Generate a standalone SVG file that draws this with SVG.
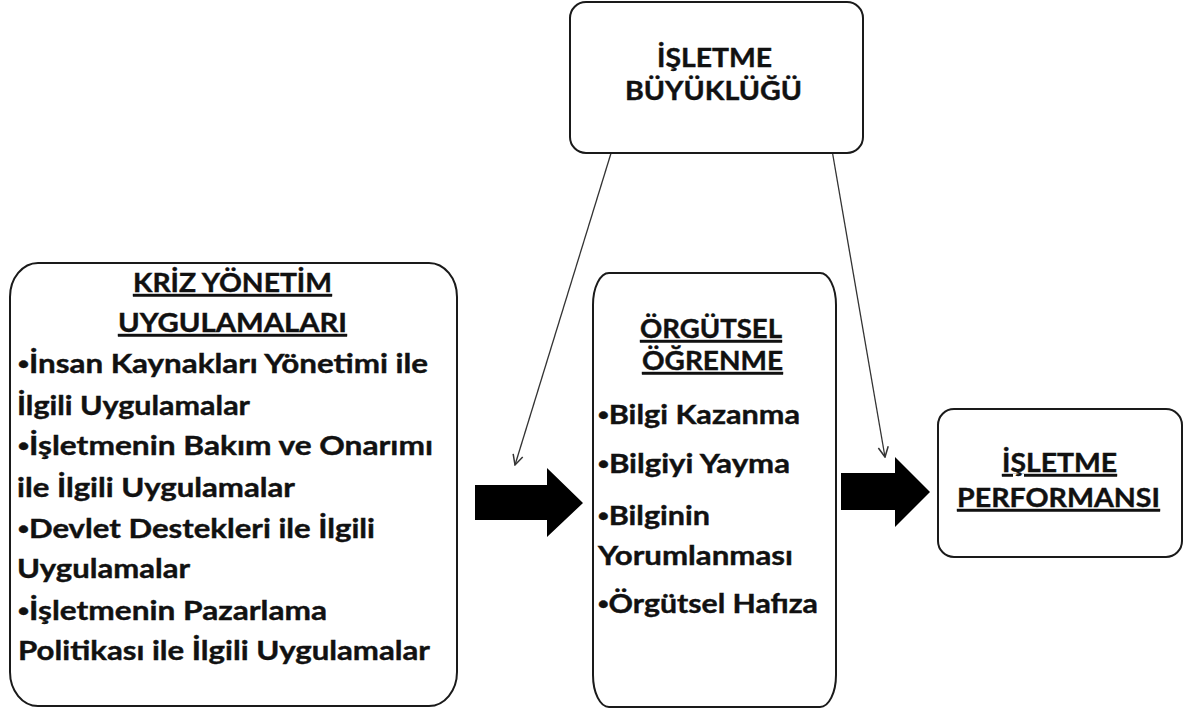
<svg xmlns="http://www.w3.org/2000/svg" width="1197" height="710" viewBox="0 0 1197 710">
  <style>
    .box { fill: #ffffff; stroke: #1a1a1a; stroke-width: 2; }
    .t { font-family: Lato, "Liberation Sans", sans-serif; font-weight: bold; font-size: 26px; fill: #111111; stroke: #111111; stroke-width: 0.4; }
    .b { font-family: "Liberation Sans", sans-serif; }
    .u { text-decoration: underline; }
    .link { fill: none; stroke: #333333; stroke-width: 1.3; }
    .block { fill: #000000; }
  </style>
  <defs>
    <marker id="open" viewBox="0 0 12 12" refX="11" refY="6" markerWidth="12" markerHeight="12" markerUnits="userSpaceOnUse" orient="auto">
      <path d="M1,1 L11,6 L1,11" fill="none" stroke="#333333" stroke-width="1.5"/>
    </marker>
  </defs>

  <!-- connectors -->
  <g id="connectors">
    <line class="link" x1="612" y1="150" x2="515" y2="465" marker-end="url(#open)"/>
    <line class="link" x1="832" y1="150" x2="885" y2="457" marker-end="url(#open)"/>
    <polygon class="block" points="475,485 547,485 547,468 583,503 547,537 547,520 475,520"/>
    <polygon class="block" points="841,473 895,473 895,457 930,492 895,527 895,510 841,510"/>
  </g>

  <!-- company size -->
  <g id="isletme-buyuklugu">
    <rect class="box" x="570" y="2" width="293" height="151" rx="16" ry="16"/>
    <text class="t" x="657" y="67" textLength="115" lengthAdjust="spacingAndGlyphs">İŞLETME</text>
    <text class="t" x="625" y="100" textLength="177" lengthAdjust="spacingAndGlyphs">BÜYÜKLÜĞÜ</text>
  </g>

  <!-- crisis management practices -->
  <g id="kriz-yonetim">
    <rect class="box" x="10" y="263" width="447" height="443" rx="28" ry="34"/>
    <text class="t u" x="133" y="292" textLength="199" lengthAdjust="spacingAndGlyphs">KRİZ YÖNETİM</text>
    <text class="t u" x="118" y="332" textLength="229" lengthAdjust="spacingAndGlyphs">UYGULAMALARI</text>
    <text class="t" x="18" y="373" textLength="410" lengthAdjust="spacingAndGlyphs"><tspan class="b">•</tspan>İnsan Kaynakları  Yönetimi ile</text>
    <text class="t" x="17" y="415" textLength="233" lengthAdjust="spacingAndGlyphs">İlgili Uygulamalar</text>
    <text class="t" x="18" y="455" textLength="415" lengthAdjust="spacingAndGlyphs"><tspan class="b">•</tspan>İşletmenin Bakım  ve Onarımı</text>
    <text class="t" x="17" y="497" textLength="278" lengthAdjust="spacingAndGlyphs">ile İlgili Uygulamalar</text>
    <text class="t" x="18" y="538" textLength="357" lengthAdjust="spacingAndGlyphs"><tspan class="b">•</tspan>Devlet Destekleri ile İlgili</text>
    <text class="t" x="17" y="578" textLength="173" lengthAdjust="spacingAndGlyphs">Uygulamalar</text>
    <text class="t" x="18" y="620" textLength="309" lengthAdjust="spacingAndGlyphs"><tspan class="b">•</tspan>İşletmenin Pazarlama</text>
    <text class="t" x="18" y="660" textLength="412" lengthAdjust="spacingAndGlyphs">Politikası ile İlgili Uygulamalar</text>
  </g>

  <!-- organisational learning -->
  <g id="orgutsel-ogrenme">
    <rect class="box" x="593" y="273" width="243" height="434" rx="16" ry="32"/>
    <text class="t u" x="640" y="338" textLength="142" lengthAdjust="spacingAndGlyphs">ÖRGÜTSEL</text>
    <text class="t u" x="642" y="370" textLength="141" lengthAdjust="spacingAndGlyphs">ÖĞRENME</text>
    <text class="t" x="598" y="424" textLength="202" lengthAdjust="spacingAndGlyphs"><tspan class="b">•</tspan>Bilgi Kazanma</text>
    <text class="t" x="598" y="473" textLength="192" lengthAdjust="spacingAndGlyphs"><tspan class="b">•</tspan>Bilgiyi Yayma</text>
    <text class="t" x="598" y="525" textLength="112" lengthAdjust="spacingAndGlyphs"><tspan class="b">•</tspan>Bilginin</text>
    <text class="t" x="598" y="565" textLength="195" lengthAdjust="spacingAndGlyphs">Yorumlanması</text>
    <text class="t" x="598" y="613" textLength="220" lengthAdjust="spacingAndGlyphs"><tspan class="b">•</tspan>Örgütsel Hafıza</text>
  </g>

  <!-- company performance -->
  <g id="isletme-performansi">
    <rect class="box" x="938" y="409" width="244" height="148" rx="16" ry="16"/>
    <text class="t u" x="1002" y="472" textLength="115" lengthAdjust="spacingAndGlyphs">İŞLETME</text>
    <text class="t u" x="957" y="507" textLength="203" lengthAdjust="spacingAndGlyphs">PERFORMANSI</text>
  </g>
</svg>
